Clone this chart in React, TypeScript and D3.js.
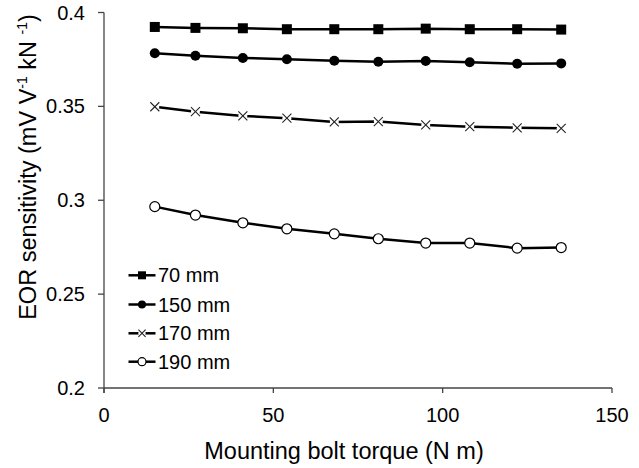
import React from "react";
import * as d3 from "d3";

const torque = [15, 27, 41, 54, 68, 81, 95, 108, 122, 135];
const s70 = [0.3923, 0.3918, 0.3916, 0.3911, 0.3911, 0.3911, 0.3914, 0.3911, 0.3911, 0.3909];
const s150 = [0.3783, 0.377, 0.3758, 0.3751, 0.3743, 0.3738, 0.3742, 0.3735, 0.3727, 0.3729];
const s170 = [0.3498, 0.3472, 0.3449, 0.3437, 0.3417, 0.3419, 0.3401, 0.3392, 0.3386, 0.3383];
const s190 = [0.2966, 0.2921, 0.288, 0.2848, 0.2821, 0.2795, 0.2772, 0.2772, 0.2745, 0.2748];
const seriesNames = ["70 mm", "150 mm", "170 mm", "190 mm"];
const markerTypes = ["square", "circle", "cross", "open"];
const xTicks = [0, 50, 100, 150];
const yTicks = [0.2, 0.25, 0.3, 0.35, 0.4];

const W = 639;
const H = 468;
const FONT = "'Liberation Sans', Arial, sans-serif";

function Marker({ type, x, y, s }: { type: string; x: number; y: number; s: number }) {
  if (type === "square")
    return <rect x={x - s / 2} y={y - s / 2} width={s} height={s} fill="#000" />;
  if (type === "circle") return <circle cx={x} cy={y} r={s / 2} fill="#000" />;
  if (type === "open")
    return <circle cx={x} cy={y} r={s / 2} fill="#fff" stroke="#000" strokeWidth={1.2} />;
  const h = s * 0.45;
  return (
    <g>
      <circle cx={x} cy={y} r={h} fill="#fff" />
      <line x1={x - h} y1={y - h} x2={x + h} y2={y + h} stroke="#222" strokeWidth={1.1} />
      <line x1={x - h} y1={y + h} x2={x + h} y2={y - h} stroke="#222" strokeWidth={1.1} />
    </g>
  );
}

export default function App() {
  const x = d3.scaleLinear().domain([0, 150]).range([104, 612]);
  const y = d3.scaleLinear().domain([0.2, 0.4]).range([388, 12.5]);
  const series = [s70, s150, s170, s190];
  const line = d3
    .line<number>()
    .x((_, i) => x(torque[i]))
    .y((d) => y(d));
  const axisColor = "#444";
  const legendX0 = 128.5;
  const legendX1 = 155.5;
  const legendY = [275.3, 304.5, 333.3, 361.7];

  return (
    <svg
      width={W}
      height={H}
      style={{ position: "absolute", left: 0, top: 0, background: "#fff" }}
      fontFamily={FONT}
    >
      <rect width={W} height={H} fill="#fff" />
      {/* axes */}
      <line x1={x(0)} y1={y(0.2)} x2={x(150)} y2={y(0.2)} stroke={axisColor} strokeWidth={1.3} />
      <line x1={x(0)} y1={y(0.2) + 5} x2={x(0)} y2={y(0.4)} stroke={axisColor} strokeWidth={1.3} />
      {xTicks.map((t) => (
        <g key={"xt" + t}>
          <line x1={x(t)} x2={x(t)} y1={y(0.2)} y2={y(0.2) + 5} stroke={axisColor} strokeWidth={1.3} />
          <text x={x(t)} y={422} textAnchor="middle" fontSize={20} fill="#000">
            {t}
          </text>
        </g>
      ))}
      {yTicks.map((t) => (
        <g key={"yt" + t}>
          <line x1={x(0) - 6} x2={x(0)} y1={y(t)} y2={y(t)} stroke={axisColor} strokeWidth={1.3} />
          <text x={85} y={y(t) + 7} textAnchor="end" fontSize={20} fill="#000">
            {String(t)}
          </text>
        </g>
      ))}
      {/* titles */}
      <text x={344} y={459} textAnchor="middle" fontSize={23.5} fill="#000">
        Mounting bolt torque (N m)
      </text>
      <text
        transform="translate(36,167) rotate(-90)"
        textAnchor="middle"
        fontSize={23.5}
        fill="#000"
      >
        EOR sensitivity (mV V
        <tspan fontSize={14} dy={-9}>-1</tspan>
        <tspan dy={9}> kN </tspan>
        <tspan fontSize={14} dy={-9}>-1</tspan>
        <tspan dy={9}>)</tspan>
      </text>
      {/* series */}
      {series.map((vals, si) => (
        <g key={"s" + si}>
          <path d={line(vals) || ""} fill="none" stroke="#000" strokeWidth={2.5} />
          {vals.map((v, i) => (
            <Marker key={i} type={markerTypes[si]} x={x(torque[i])} y={y(v)} s={10} />
          ))}
        </g>
      ))}
      {/* legend */}
      {seriesNames.map((name, i) => (
        <g key={"l" + i}>
          <line x1={legendX0} x2={legendX1} y1={legendY[i]} y2={legendY[i]} stroke="#000" strokeWidth={2.5} />
          <Marker type={markerTypes[i]} x={(legendX0 + legendX1) / 2} y={legendY[i]} s={8} />
          <text x={158} y={legendY[i] + 7} fontSize={20} fill="#000">
            {name}
          </text>
        </g>
      ))}
    </svg>
  );
}
